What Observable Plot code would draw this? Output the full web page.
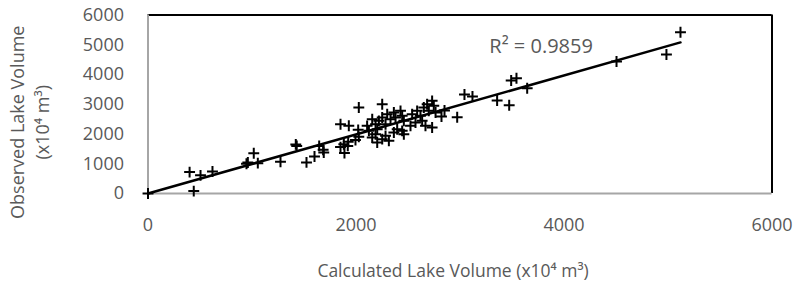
<!DOCTYPE html>
<html>
<head>
<meta charset="utf-8">
<script src="https://cdn.jsdelivr.net/npm/d3@7"></script>
<script src="https://cdn.jsdelivr.net/npm/@observablehq/plot@0.6"></script>
<style>
  html, body { margin: 0; padding: 0; background: white; }
</style>
</head>
<body>
<div id="chart"></div>
<script>
// Calculated lake volume (x10^4 m^3)
const calculated = [
  0, 440, 400, 505, 620, 947, 960, 1017, 1056, 1274, 1421, 1430, 1524, 1601, 1646, 1684, 1690,
  1851, 1889, 1921,
  1851, 1931, 2027, 2252, 1883, 1925, 1995, 2021, 2027,
  2107, 2124, 2156, 2188, 2204, 2220, 2252, 2284, 2300, 2332, 2364, 2380, 2428, 2444, 2460,
  2156, 2188, 2204, 2252, 2284, 2316, 2364, 2396, 2444, 2460,
  2540, 2588, 2620, 2652, 2684, 2732, 2748, 2765, 2700, 2636, 2668, 2732, 2572, 2524,
  2822, 2851, 2973, 3043, 3120, 3357, 3473, 3492, 3543, 3646, 4505, 4985, 5120
];
// Observed lake volume (x10^4 m^3)
const observed = [
  0, 80, 720, 610, 740, 1000, 1040, 1355, 1020, 1065, 1650, 1600, 1045, 1245, 1600, 1470, 1380,
  1560, 1360, 1600,
  2330, 2275, 2890, 3000, 1657, 1737, 1800, 2140, 1905,
  2274, 2106, 2498, 2330, 2162, 2442, 2554, 2330, 2666, 2498, 2722, 2554, 2778, 2610, 2442,
  1882, 1994, 1714, 1826, 1938, 1770, 2050, 2162, 2106, 1994,
  2666, 2778, 2610, 2890, 3002, 3114, 2946, 2722, 2778, 2442, 2274, 2218, 2386, 2274,
  2588, 2789, 2564, 3326, 3259, 3125, 2967, 3797, 3874, 3538, 4435, 4670, 5420
];
const xTicks = [0, 2000, 4000, 6000];
const yTicks = [0, 1000, 2000, 3000, 4000, 5000, 6000];
const r2Label = ["R² = 0.9859"];
const r2Position = [3780, 4940];
const xTitle = "Calculated Lake Volume (x10⁴ m³)";
const yTitle = "Observed Lake Volume\n(x10⁴ m³)";

const points = calculated.map((c, i) => ({x: c, y: observed[i]}));
// least-squares trend line through the origin, computed from the points
const slope = d3.sum(points, d => d.x * d.y) / d3.sum(points, d => d.x * d.x);
const maxX = d3.max(calculated);
const trend = [{x: 0, y: 0}, {x: maxX, y: slope * maxX}];

const textColor = "#595959";

const chart = Plot.plot({
  width: 796,
  height: 287,
  marginLeft: 147.5,
  marginRight: 24.5,
  marginTop: 14.5,
  marginBottom: 94,
  style: {fontFamily: "'Open Sans', sans-serif", fontSize: "18px", color: textColor, background: "white"},
  x: {domain: [0, 6000], ticks: xTicks, tickSize: 0, tickPadding: 25, label: null, tickFormat: d => String(d)},
  y: {domain: [0, 6000], ticks: yTicks, tickSize: 0, tickPadding: 24, label: null, tickFormat: d => String(d)},
  marks: [
    Plot.ruleX([6000], {stroke: "black", strokeWidth: 2}),
    Plot.ruleY([6000], {stroke: "black", strokeWidth: 2}),
    Plot.ruleY([0], {stroke: "#a6a6a6", strokeWidth: 2}),
    Plot.ruleX([0], {stroke: "#a6a6a6", strokeWidth: 2}),
    Plot.line(trend, {x: "x", y: "y", stroke: "black", strokeWidth: 2.5}),
    Plot.dot(points, {x: "x", y: "y", symbol: "plus", r: 3.6, stroke: "black", strokeWidth: 2}),
    Plot.text(r2Label, {x: () => r2Position[0], y: () => r2Position[1], text: d => d, fill: textColor, fontSize: 20}),
    Plot.text([xTitle], {frameAnchor: "bottom", lineAnchor: "middle", textAnchor: "middle", dy: 78, dx: -7, text: d => d, fill: textColor, fontSize: 17.5}),
    Plot.text([yTitle], {frameAnchor: "left", textAnchor: "middle", lineAnchor: "middle", dx: -120, dy: 18, rotate: -90, text: d => d, fill: textColor, fontSize: 18, lineHeight: 1.39})
  ]
});
document.getElementById("chart").appendChild(chart);
</script>
</body>
</html>
